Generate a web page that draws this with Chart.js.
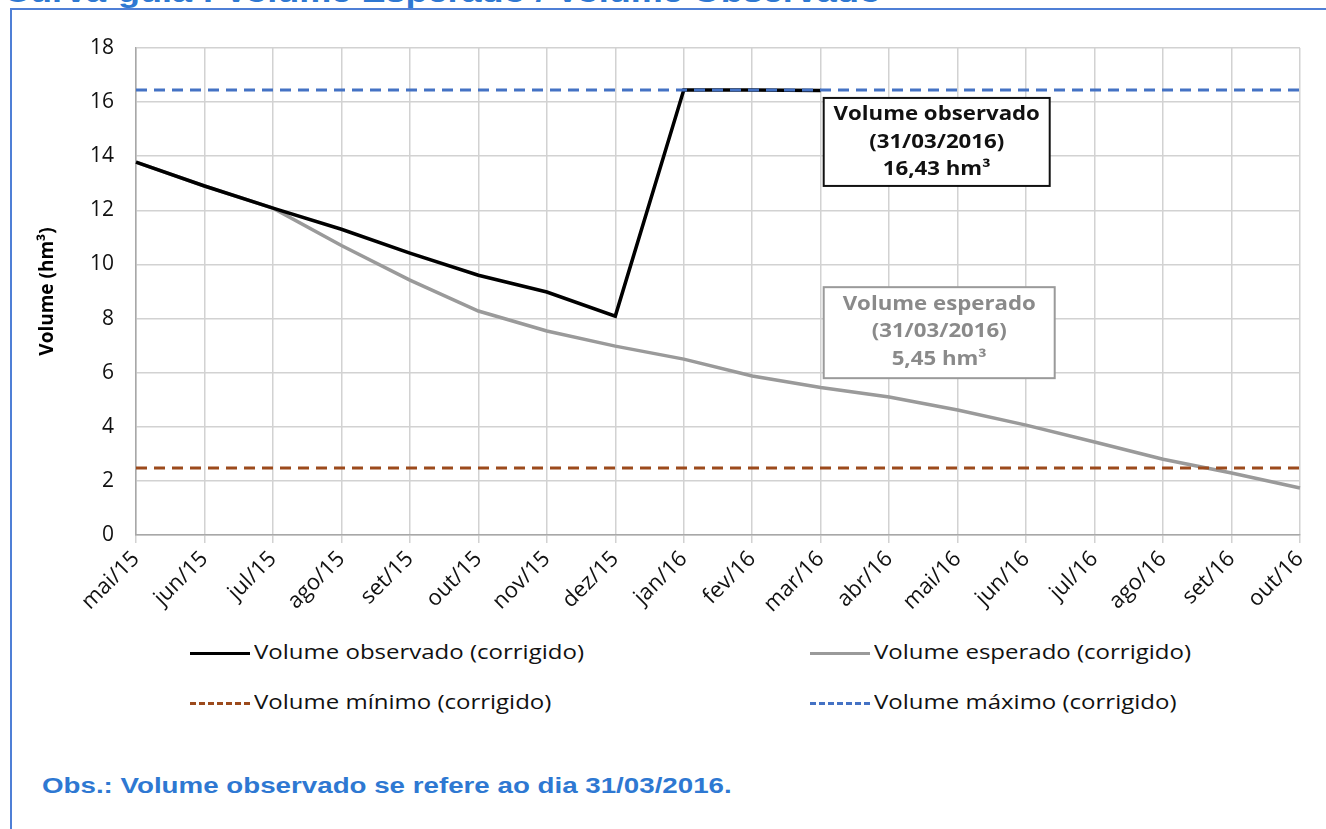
<!DOCTYPE html>
<html lang="pt">
<head>
<meta charset="utf-8">
<title>Curva-guia : Volume Esperado / Volume Observado</title>
<script src="https://cdn.jsdelivr.net/npm/chart.js@4.4.1/dist/chart.umd.min.js"></script>
<style>
    body { margin: 0; background: #fff; }
    #page { position: relative; width: 1326px; height: 829px; overflow: hidden; background: #fff; }
    #title {
        position: absolute; left: 4px; top: -25px; transform: scaleX(1.2); transform-origin: left top;
        font: bold 30px 'Liberation Sans', Arial, sans-serif; color: #2e78d2; white-space: nowrap;
    }
    #frame {
        position: absolute; left: 10px; top: 8px; width: 1330px; height: 840px;
        border-left: 2px solid #4f7fd6; border-top: 2px solid #4f7fd6;
    }
    #chart { position: absolute; left: 0; top: 0; }
    .legend { position: absolute; font: 20px 'Open Sans', sans-serif; color: #111; white-space: nowrap; }
    .legend .sample { display: inline-block; width: 60px; height: 0; vertical-align: middle; margin-right: 4px; }
    .legend .txt { display: inline-block; transform: scaleX(1.2); transform-origin: left center; }
    #obs {
        position: absolute; left: 42px; top: 773px; transform: scaleX(1.26); transform-origin: left top;
        font: bold 22px 'Liberation Sans', Arial, sans-serif; color: #2e78d2; white-space: nowrap;
    }
</style>
</head>
<body>
<div id="page">
    <div id="title">Curva-guia : Volume Esperado / Volume Observado</div>
    <div id="frame"></div>
    <canvas id="chart" width="1326" height="620"></canvas>

    <div class="legend" style="left:190px; top:638px;"><span class="sample" style="border-top:3px solid #000;"></span><span class="txt">Volume observado (corrigido)</span></div>
    <div class="legend" style="left:810px; top:638px;"><span class="sample" style="border-top:3px solid #9a9a9a;"></span><span class="txt">Volume esperado (corrigido)</span></div>
    <div class="legend" style="left:190px; top:688px;"><span class="sample" style="border-top:3px dashed #9c4a1c;"></span><span class="txt">Volume mínimo (corrigido)</span></div>
    <div class="legend" style="left:810px; top:688px;"><span class="sample" style="border-top:3px dashed #4472c4;"></span><span class="txt">Volume máximo (corrigido)</span></div>

    <div id="obs">Obs.: Volume observado se refere ao dia 31/03/2016.</div>
</div>

<script>
    // ── Data (hm³, monthly) ──
    const months = ['mai/15', 'jun/15', 'jul/15', 'ago/15', 'set/15', 'out/15', 'nov/15', 'dez/15',
                    'jan/16', 'fev/16', 'mar/16', 'abr/16', 'mai/16', 'jun/16', 'jul/16', 'ago/16',
                    'set/16', 'out/16'];

    const observado = [13.78, 12.9, 12.08, 11.3, 10.42, 9.6, 8.98, 8.09,
                       16.45, 16.45, 16.43, null, null, null, null, null, null, null];

    const esperado  = [13.78, 12.9, 12.08, 10.7, 9.42, 8.28, 7.54, 6.98,
                       6.5, 5.88, 5.45, 5.1, 4.62, 4.06, 3.44, 2.8, 2.29, 1.74];

    const volMinimo = 2.48;
    const volMaximo = 16.45;

    const yTicks = [0, 2, 4, 6, 8, 10, 12, 14, 16, 18];

    // ── Annotation boxes anchored to mar/16 ──
    const boxesPlugin = {
        id: 'boxes',
        afterDatasetsDraw(chart) {
            const { ctx, scales: { x, y } } = chart;
            const left = x.getPixelForValue(10) + 3;

            function box(top, w, h, stroke, color, lines) {
                ctx.save();
                ctx.fillStyle = '#fff';
                ctx.fillRect(left, top, w, h);
                ctx.lineWidth = 2;
                ctx.strokeStyle = stroke;
                ctx.strokeRect(left, top, w, h);
                ctx.fillStyle = color;
                ctx.font = "bold 19px 'Open Sans', sans-serif";
                ctx.textAlign = 'center';
                ctx.textBaseline = 'middle';
                lines.forEach((t, i) => {
                    ctx.save();
                    ctx.translate(left + w / 2, top + 17 + i * 27.5);
                    ctx.scale(1.17, 1);   // the reference text is stretched sideways
                    ctx.fillText(t, 0, 0);
                    ctx.restore();
                });
                ctx.restore();
            }

            box(y.getPixelForValue(volMaximo) + 8, 226, 88, '#111', '#111',
                ['Volume observado', '(31/03/2016)', '16,43 hm³']);
            box(y.getPixelForValue(9.16), 231, 91, '#9a9a9a', '#8a8a8a',
                ['Volume esperado', '(31/03/2016)', '5,45 hm³']);
        }
    };

    new Chart(document.getElementById('chart'), {
        type: 'line',
        data: {
            labels: months,
            datasets: [
                {
                    label: 'Volume esperado (corrigido)',
                    data: esperado,
                    borderColor: '#9a9a9a',
                    borderWidth: 3.5,
                    pointRadius: 0,
                    tension: 0,
                    order: 4
                },
                {
                    label: 'Volume observado (corrigido)',
                    data: observado,
                    borderColor: '#000',
                    borderWidth: 3.5,
                    pointRadius: 0,
                    tension: 0,
                    spanGaps: false,
                    order: 3
                },
                {
                    label: 'Volume mínimo (corrigido)',
                    data: months.map(() => volMinimo),
                    borderColor: '#9c4a1c',
                    borderWidth: 3,
                    borderDash: [11, 7],
                    pointRadius: 0,
                    order: 2
                },
                {
                    label: 'Volume máximo (corrigido)',
                    data: months.map(() => volMaximo),
                    borderColor: '#4472c4',
                    borderWidth: 3,
                    borderDash: [11, 7],
                    pointRadius: 0,
                    order: 1
                }
            ]
        },
        options: {
            responsive: false,
            animation: false,
            layout: { padding: { left: 0, right: 26, top: 48, bottom: 0 } },
            plugins: {
                legend: { display: false },   // custom legend in HTML
                tooltip: { enabled: false }
            },
            scales: {
                x: {
                    offset: false,
                    grid: { color: '#d2d2d2', lineWidth: 1.5, tickLength: 8 },
                    border: { color: '#a8a8a8', width: 1.5 },
                    ticks: {
                        color: '#111',
                        font: { family: "'Open Sans', sans-serif", size: 22 },
                        minRotation: 45,
                        maxRotation: 45,
                        autoSkip: false,
                        padding: 3
                    },
                    afterFit: s => { s.height = 85; }
                },
                y: {
                    min: 0,
                    max: 18,
                    afterBuildTicks: s => { s.ticks = yTicks.map(v => ({ value: v })); },
                    grid: { color: '#d2d2d2', lineWidth: 1.5, drawTicks: false },
                    border: { color: '#a8a8a8', width: 1.5 },
                    ticks: {
                        color: '#111',
                        font: { family: "'Open Sans', sans-serif", size: 21 },
                        padding: 22
                    },
                    title: {
                        display: true,
                        text: 'Volume (hm³)',
                        color: '#000',
                        font: { family: "'Open Sans', sans-serif", size: 19, weight: 'bold' },
                        padding: { top: 36, bottom: 0 }
                    },
                    afterFit: s => { s.width = 136; }
                }
            }
        },
        plugins: [boxesPlugin]
    });
</script>
</body>
</html>
